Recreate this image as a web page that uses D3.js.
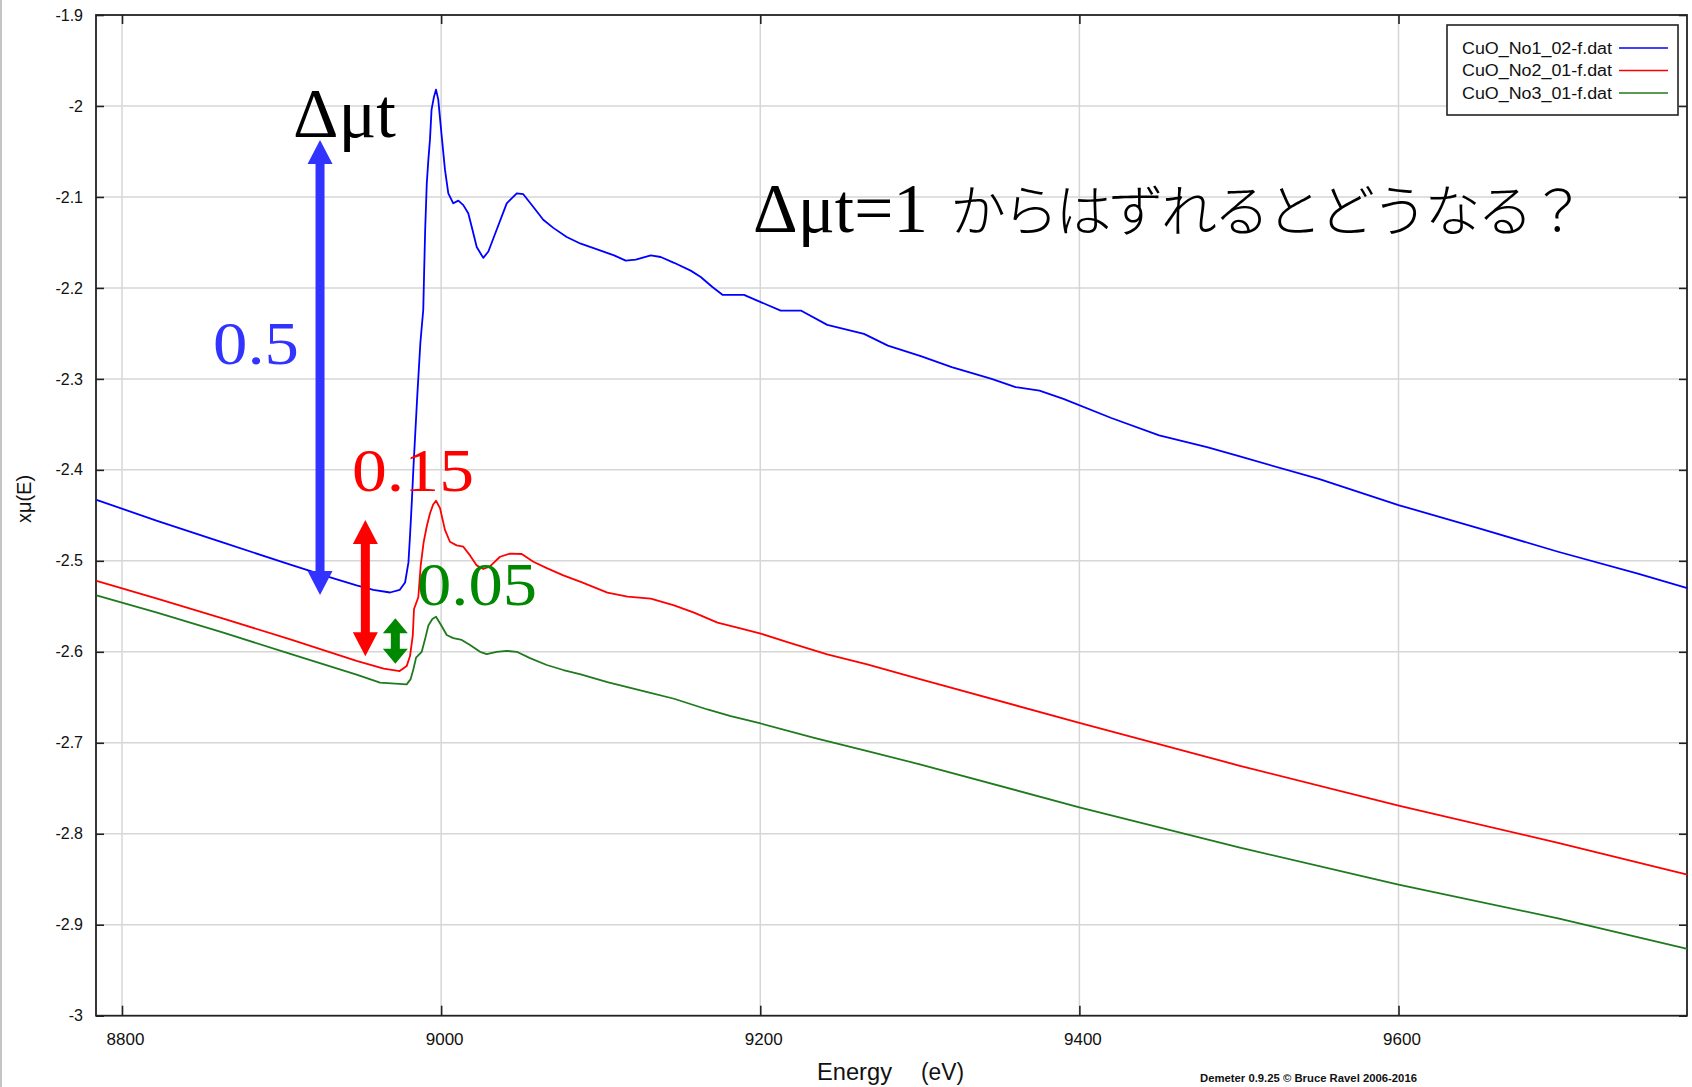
<!DOCTYPE html>
<html>
<head>
<meta charset="utf-8">
<script src="https://cdn.jsdelivr.net/npm/d3@7"></script>
<style>
  html, body { margin: 0; padding: 0; background: #fff; }
  svg { display: block; }
  text { white-space: pre; }
</style>
</head>
<body>
<svg id="chart" width="1692" height="1087"></svg>
<script>
// CuO K-edge transmission scans: energy (eV) vs x*mu(E)
const seriesNames = ["CuO_No1_02-f.dat", "CuO_No2_01-f.dat", "CuO_No3_01-f.dat"];

const no1Energy = [8784, 8822, 8863.5, 8905, 8930, 8947, 8957.5, 8968, 8974, 8977.4, 8979.5, 8980.5, 8981.6, 8982.6, 8985, 8987, 8988.8, 8989.3, 8990, 8991, 8992, 8993, 8994, 8995.5, 8996.8, 8998.2, 9000.4, 9002.4, 9004.5, 9007.6, 9010.8, 9013.9, 9017, 9019.2, 9022.3, 9026.4, 9029.6, 9034.8, 9041.1, 9047.4, 9051.5, 9057.8, 9064, 9070.3, 9078.7, 9087.5, 9100, 9108.4, 9115.7, 9122, 9131.4, 9137.6, 9146, 9156.4, 9162.7, 9170, 9176.3, 9189.8, 9200.3, 9212.8, 9225.4, 9242, 9265, 9280, 9300.6, 9320, 9345, 9360, 9375, 9390, 9420, 9450, 9480, 9500, 9550, 9600, 9650, 9700, 9750, 9781];
const no1Mu = [-2.433, -2.456, -2.480, -2.504, -2.518, -2.527, -2.532, -2.5348, -2.532, -2.5238, -2.502, -2.4725, -2.436, -2.399, -2.32, -2.26, -2.224, -2.186, -2.136, -2.085, -2.059, -2.037, -2.004, -1.99, -1.982, -1.993, -2.034, -2.070, -2.096, -2.107, -2.104, -2.109, -2.118, -2.133, -2.155, -2.167, -2.160, -2.136, -2.107, -2.096, -2.097, -2.111, -2.125, -2.134, -2.144, -2.1514, -2.159, -2.1643, -2.170, -2.169, -2.1643, -2.166, -2.1724, -2.181, -2.188, -2.199, -2.2076, -2.2076, -2.2156, -2.2249, -2.2249, -2.2406, -2.2505, -2.2634, -2.275, -2.287, -2.300, -2.309, -2.313, -2.322, -2.343, -2.362, -2.375, -2.385, -2.410, -2.4387, -2.464, -2.490, -2.514, -2.530];

const no2Energy = [8784, 8822, 8863.5, 8905, 8947, 8964, 8974, 8978.4, 8980.5, 8982.2, 8983, 8985.7, 8987.2, 8989, 8991, 8993, 8995, 8996.8, 8999.3, 9002.4, 9005.5, 9009.7, 9013.9, 9018.1, 9022.3, 9026.4, 9030.6, 9036.9, 9043.2, 9050.5, 9057.8, 9066.2, 9076.6, 9087.5, 9104.2, 9116.8, 9131.4, 9146, 9158.5, 9173.2, 9185.7, 9200.3, 9217, 9242, 9267, 9300.6, 9400, 9500, 9600, 9700, 9781];
const no2Mu = [-2.522, -2.5415, -2.5635, -2.586, -2.610, -2.6186, -2.6212, -2.6157, -2.6047, -2.5826, -2.553, -2.540, -2.505, -2.480, -2.462, -2.448, -2.438, -2.434, -2.442, -2.466, -2.479, -2.483, -2.4845, -2.494, -2.505, -2.509, -2.506, -2.4955, -2.492, -2.4925, -2.501, -2.508, -2.516, -2.5232, -2.5349, -2.5393, -2.5415, -2.5489, -2.557, -2.568, -2.5735, -2.580, -2.5893, -2.6028, -2.6139, -2.6304, -2.678, -2.725, -2.769, -2.810, -2.845];

const no3Energy = [8784, 8822, 8863.5, 8905, 8947, 8961.7, 8978.4, 8980.9, 8982.6, 8984.3, 8987.8, 8989.9, 8992, 8994.5, 8996.8, 9000.4, 9003.5, 9007.6, 9012.9, 9018.1, 9024.4, 9028.6, 9034.8, 9041.1, 9047.4, 9055.7, 9066.2, 9076.6, 9087.5, 9104.2, 9129.3, 9146, 9166.9, 9181.5, 9200.3, 9233.8, 9267.2, 9300.6, 9400, 9500, 9600, 9700, 9781];
const no3Mu = [-2.5379, -2.557, -2.579, -2.602, -2.625, -2.6339, -2.6358, -2.630, -2.6193, -2.6064, -2.6002, -2.5863, -2.571, -2.564, -2.5615, -2.572, -2.5815, -2.585, -2.587, -2.5925, -2.600, -2.6025, -2.600, -2.599, -2.600, -2.607, -2.6145, -2.620, -2.6249, -2.6333, -2.6443, -2.6516, -2.6634, -2.6708, -2.6788, -2.6945, -2.7093, -2.7239, -2.771, -2.815, -2.856, -2.893, -2.9265];

const xTicks = [8800, 9000, 9200, 9400, 9600];
const yTicks = [-3, -2.9, -2.8, -2.7, -2.6, -2.5, -2.4, -2.3, -2.2, -2.1, -2, -1.9];

// Edge-jump annotations: energy position, labelled size, centre of the span
const jumpLabels = ["0.5", "0.15", "0.05"];
const jumpSizes = [0.5, 0.15, 0.05];
const jumpEnergy = [8924.1, 8952.5, 8971.3];
const jumpCentre = [-2.2875, -2.530, -2.588];

const svg = d3.select("#chart");
const W = 1692, H = 1087;
const plotL = 96, plotR = 1687, plotT = 15, plotB = 1015.7;

const x = d3.scaleLinear().domain([8783.7, 9780.8]).range([plotL, plotR]);
const y = d3.scaleLinear().domain([-3, -1.9]).range([plotB, plotT]);

const lineColors = ["#0000ff", "#ff0000", "#1f7a1f"];
const arrowColors = ["#3333ff", "#ff0000", "#008800"];

svg.append("rect").attr("width", W).attr("height", H).attr("fill", "#fff");
svg.append("rect").attr("x", 0).attr("y", 0).attr("width", 2).attr("height", H).attr("fill", "#c4c4c4");

// grid
const grid = svg.append("g").attr("stroke", "#d6d6d6").attr("stroke-width", 1.5);
grid.selectAll("line.v").data(xTicks).join("line").attr("class", "v")
  .attr("x1", d => x(d)).attr("x2", d => x(d)).attr("y1", plotT).attr("y2", plotB);
grid.selectAll("line.h").data(yTicks.filter(d => d > -3 && d < -1.9)).join("line").attr("class", "h")
  .attr("x1", plotL).attr("x2", plotR).attr("y1", d => y(d)).attr("y2", d => y(d));

// axes with inward ticks on all four sides
const fontAxis = "'Liberation Sans', Arial, sans-serif";
const gB = svg.append("g").attr("transform", `translate(0,${plotB})`)
  .call(d3.axisBottom(x).tickValues(xTicks).tickFormat(d3.format("d")).tickSizeInner(-10).tickSizeOuter(0).tickPadding(17));
const gL = svg.append("g").attr("transform", `translate(${plotL},0)`)
  .call(d3.axisLeft(y).tickValues(yTicks).tickFormat(d => String(d)).tickSizeInner(-8).tickSizeOuter(0).tickPadding(13));
const gT = svg.append("g").attr("transform", `translate(0,${plotT})`)
  .call(d3.axisTop(x).tickValues(xTicks).tickFormat("").tickSizeInner(-9).tickSizeOuter(0));
const gR = svg.append("g").attr("transform", `translate(${plotR},0)`)
  .call(d3.axisRight(y).tickValues(yTicks).tickFormat("").tickSizeInner(-8).tickSizeOuter(0));
[gB, gL, gT, gR].forEach(g => {
  g.select(".domain").remove();
  g.selectAll(".tick line").attr("stroke", "#222").attr("stroke-width", 1.6);
  g.selectAll("text").attr("fill", "#111").style("font-family", fontAxis);
});
gB.selectAll("text").style("font-size", "17px").attr("dx", 3);
gL.selectAll("text").style("font-size", "16px");

// frame
svg.append("rect").attr("x", plotL).attr("y", plotT).attr("width", plotR - plotL).attr("height", plotB - plotT)
  .attr("fill", "none").attr("stroke", "#222").attr("stroke-width", 1.8);

// spectra
const series = [
  { name: seriesNames[0], e: no1Energy, m: no1Mu, color: lineColors[0] },
  { name: seriesNames[1], e: no2Energy, m: no2Mu, color: lineColors[1] },
  { name: seriesNames[2], e: no3Energy, m: no3Mu, color: lineColors[2] }
];
const line = d3.line().x(d => x(d[0])).y(d => y(d[1]));
const plot = svg.append("g");
series.forEach(s => {
  plot.append("path")
    .datum(s.e.map((e, i) => [e, s.m[i]]))
    .attr("d", line)
    .attr("fill", "none")
    .attr("stroke", s.color)
    .attr("stroke-width", 1.8)
    .attr("stroke-linejoin", "round");
});

// double-headed arrows marking the edge jump of each scan
const serif = "'Liberation Serif', 'DejaVu Serif', serif";
jumpSizes.forEach((size, i) => {
  const cx = x(jumpEnergy[i]);
  const yHi = y(jumpCentre[i] + size / 2);
  const yLo = y(jumpCentre[i] - size / 2);
  const len = yLo - yHi;
  const headL = Math.min(24, len * 0.33);
  const headW = 12.5, shaft = 4.5;
  const pts = [
    [cx, yHi], [cx + headW, yHi + headL], [cx + shaft, yHi + headL],
    [cx + shaft, yLo - headL], [cx + headW, yLo - headL], [cx, yLo],
    [cx - headW, yLo - headL], [cx - shaft, yLo - headL], [cx - shaft, yHi + headL],
    [cx - headW, yHi + headL]
  ];
  svg.append("path").attr("d", "M" + pts.map(p => p.join(",")).join("L") + "Z")
    .attr("fill", arrowColors[i]);
});

// jump labels
const labelPos = [
  { x: 213, y: 364, w: 86 },
  { x: 352, y: 491, w: 122 },
  { x: 417, y: 605, w: 120 }
];
jumpLabels.forEach((t, i) => {
  svg.append("text").attr("x", labelPos[i].x).attr("y", labelPos[i].y)
    .attr("textLength", labelPos[i].w).attr("lengthAdjust", "spacingAndGlyphs")
    .style("font-family", serif).style("font-size", "62px")
    .attr("fill", arrowColors[i]).text(t);
});

// headings
svg.append("text").attr("x", 293).attr("y", 137)
  .attr("textLength", 103).attr("lengthAdjust", "spacingAndGlyphs")
  .style("font-family", serif).style("font-size", "70px").attr("fill", "#000").text("Δμt");
svg.append("text").attr("x", 753).attr("y", 232)
  .attr("textLength", 175).attr("lengthAdjust", "spacingAndGlyphs")
  .style("font-family", serif).style("font-size", "70px").attr("fill", "#000").text("Δμt=1");
svg.append("text").attr("x", 950).attr("y", 231)
  .attr("textLength", 636).attr("lengthAdjust", "spacing")
  .style("font-family", "'Noto Sans CJK JP', sans-serif").style("font-size", "56px").style("font-weight", 300)
  .attr("fill", "#000").text("からはずれるとどうなる？");

// axis titles
svg.append("text").attr("x", 817).attr("y", 1080)
  .attr("textLength", 75).attr("lengthAdjust", "spacingAndGlyphs")
  .style("font-family", fontAxis).style("font-size", "23px").attr("fill", "#111").text("Energy");
svg.append("text").attr("x", 921).attr("y", 1080)
  .attr("textLength", 43).attr("lengthAdjust", "spacingAndGlyphs")
  .style("font-family", fontAxis).style("font-size", "23px").attr("fill", "#111").text("(eV)");
svg.append("text").attr("transform", "translate(31,499) rotate(-90)")
  .attr("text-anchor", "middle")
  .style("font-family", fontAxis).style("font-size", "20px").attr("fill", "#111").text("xμ(E)");
svg.append("text").attr("x", 1200).attr("y", 1082)
  .attr("textLength", 217).attr("lengthAdjust", "spacingAndGlyphs")
  .style("font-family", fontAxis).style("font-size", "11px").style("font-weight", "bold")
  .attr("fill", "#111").text("Demeter 0.9.25 © Bruce Ravel 2006-2016");

// legend
const lg = svg.append("g");
lg.append("rect").attr("x", 1447).attr("y", 25).attr("width", 231).attr("height", 90)
  .attr("fill", "#fff").attr("stroke", "#222").attr("stroke-width", 1.6);
series.forEach((s, i) => {
  const by = 53.5 + i * 22.5;
  lg.append("text").attr("x", 1462).attr("y", by)
    .attr("textLength", 150).attr("lengthAdjust", "spacingAndGlyphs")
    .style("font-family", fontAxis).style("font-size", "16px").attr("fill", "#111").text(s.name);
  lg.append("line").attr("x1", 1619).attr("x2", 1668).attr("y1", by - 5.5).attr("y2", by - 5.5)
    .attr("stroke", s.color).attr("stroke-width", 1.6);
});
</script>
</body>
</html>
